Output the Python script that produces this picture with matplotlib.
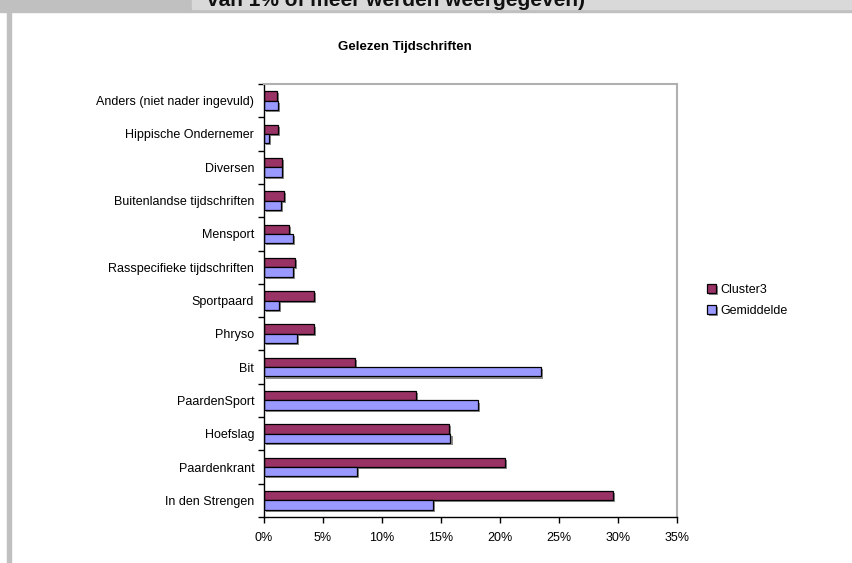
import matplotlib
matplotlib.use("Agg")
import matplotlib.pyplot as plt
import matplotlib.patheffects as pe
from matplotlib.patches import Rectangle
from matplotlib.ticker import FixedLocator, PercentFormatter
import numpy as np

plt.rcParams['font.family'] = ['Liberation Sans', 'DejaVu Sans']

# categories listed bottom -> top
categories = ["In den Strengen", "Paardenkrant", "Hoefslag", "PaardenSport", "Bit",
              "Phryso", "Sportpaard", "Rasspecifieke tijdschriften", "Mensport",
              "Buitenlandse tijdschriften", "Diversen", "Hippische Ondernemer",
              "Anders (niet nader ingevuld)"]
cluster3 = [29.6, 20.4, 15.7, 12.85, 7.7, 4.2, 4.2, 2.6, 2.15, 1.7, 1.55, 1.2, 1.1]
gemiddelde = [14.35, 7.9, 15.8, 18.1, 23.5, 2.8, 1.3, 2.45, 2.45, 1.45, 1.5, 0.45, 1.2]
series_names = ["Cluster3", "Gemiddelde"]
x_ticks = [0, 5, 10, 15, 20, 25, 30, 35]

W, H = 853, 563
fig = plt.figure(figsize=(W / 100, H / 100), dpi=100)

def px(x0, y0, w, h):
    # pixel box (top-left origin) -> figure fraction rect
    return (x0 / W, 1 - (y0 + h) / H, w / W, h / H)

def add_box(x0, y0, w, h, color):
    r = px(x0, y0, w, h)
    fig.patches.append(Rectangle(r[:2], r[2], r[3], transform=fig.transFigure,
                                 color=color, zorder=0))

# header strip and left border (page remnants around the chart)
add_box(0, 0, W, 12, "#c0c0c0")
add_box(192, 0, W - 192, 9, "#d9d9d9")
add_box(7, 12, 4, H - 12, "#c0c0c0")
fig.text(207 / W, 1 - 6 / H, "van 1% of meer werden weergegeven)", fontsize=15,
         fontweight="bold", color="#111111", va="baseline", ha="left")

fig.text(405 / W, 1 - 47 / H, "Gelezen Tijdschriften", fontsize=9.5,
         fontweight="bold", ha="center", va="center")

ax = fig.add_axes([264 / W, 1 - 517 / H, 413 / W, 433 / H])
y = np.arange(len(categories))
h = 0.28
shadow = [pe.SimplePatchShadow(offset=(1.5, -1.5), shadow_rgbFace="#808080", alpha=0.9),
          pe.Normal()]
b1 = ax.barh(y + h / 2, cluster3, height=h, color="#993366", edgecolor="black",
             linewidth=0.9, label=series_names[0], path_effects=shadow)
b2 = ax.barh(y - h / 2, gemiddelde, height=h, color="#9999ff", edgecolor="black",
             linewidth=0.9, label=series_names[1], path_effects=shadow)

ax.set_xlim(0, 35)
ax.set_ylim(-0.5, len(categories) - 0.5)
ax.set_xticks(x_ticks)
ax.xaxis.set_major_formatter(PercentFormatter(decimals=0))
ax.set_yticks(y)
ax.set_yticklabels(categories)
ax.yaxis.set_minor_locator(FixedLocator(np.arange(-0.5, len(categories), 1.0)))
ax.tick_params(axis="y", which="major", length=0, pad=7, labelsize=9)
ax.tick_params(axis="y", which="minor", length=4, width=1, direction="out")
ax.tick_params(axis="x", length=4, width=1, direction="out", labelsize=9, pad=7)

for s in ["left", "bottom"]:
    ax.spines[s].set_color("black")
    ax.spines[s].set_linewidth(1)
for s in ["top", "right"]:
    ax.spines[s].set_color("#b0b0b0")
    ax.spines[s].set_linewidth(1.5)

leg = fig.legend(handles=[b1, b2], labels=series_names, loc="upper left",
                 bbox_to_anchor=(702 / W, 1 - 279 / H), frameon=False, fontsize=9,
                 handlelength=0.7, handleheight=0.7, handletextpad=0.4,
                 labelspacing=0.7, borderaxespad=0)

fig.savefig("out.png", dpi=100, facecolor="white")
